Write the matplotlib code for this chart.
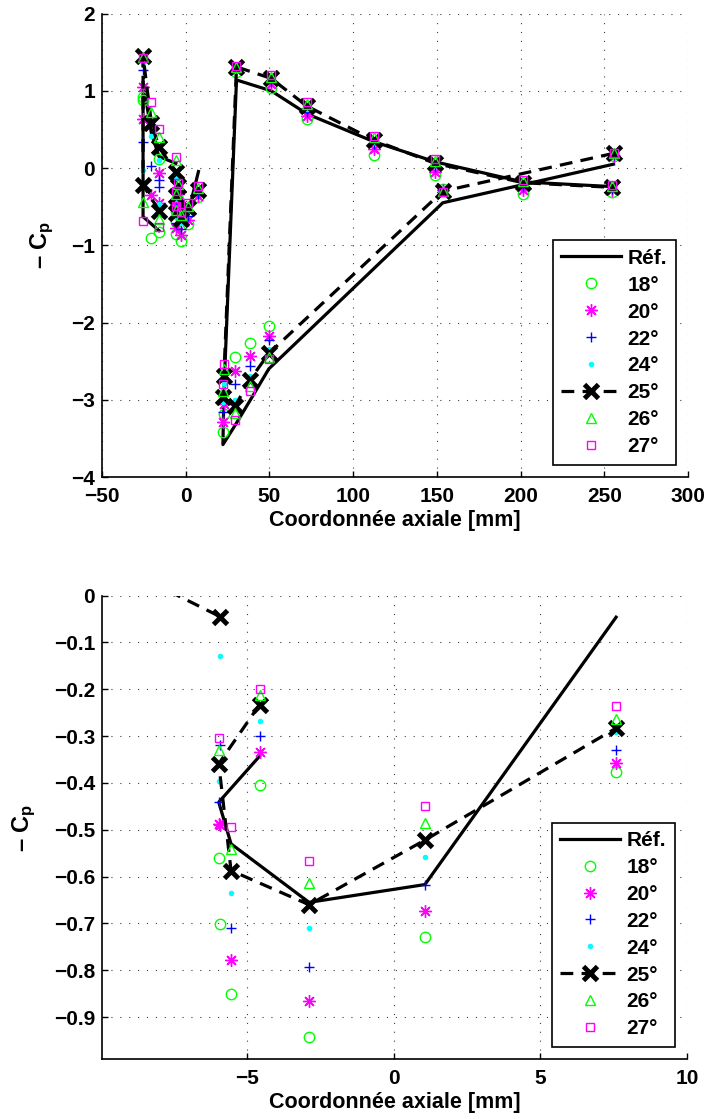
import numpy as np
import matplotlib
matplotlib.use("Agg")
import matplotlib.pyplot as plt

plt.rcParams['font.family'] = ['Liberation Sans', 'DejaVu Sans']
plt.rcParams['font.weight'] = 'bold'
plt.rcParams['axes.labelweight'] = 'bold'
plt.rcParams['mathtext.fontset'] = 'custom'
plt.rcParams['mathtext.rm'] = 'Liberation Sans:bold'
plt.rcParams['mathtext.default'] = 'rm'

nan = np.nan

# positions des prises de pression (mm), groupes séparés par nan
x_mm = [-16.0, -25.5, -25.5, -20.5, -16.0, -5.92, nan,
        -4.58, -5.97, -5.55, -2.89, 1.06, 7.58, nan,
        255.5, 153.5, 49.6, 38.1, 29.5, 22.2, 22.8, 30.3, 51.0, 72.5, 112.5, 149.0, 201.5, 254.5]

# -Cp reference
cp_ref = [-0.81, -0.63, 1.12, 0.45, 0.15, 0.06, nan,
          -0.343, -0.441, -0.530, -0.655, -0.617, -0.046, nan,
          0.05, -0.45, -2.60, -3.02, -3.33, -3.58, -2.90, 1.14, 1.00, 0.70, 0.34, 0.08, -0.18, -0.24]

# -Cp mesures par angle
cp_18 = [0.12, 0.88, 0.92, -0.91, -0.83, -0.702, nan,
         -0.405, -0.560, -0.850, -0.942, -0.729, -0.377, nan,
         0.15, -0.27, -2.05, -2.27, -2.44, -3.42, -3.18, 1.24, 1.03, 0.63, 0.17, -0.09, -0.34, -0.31]
cp_20 = [-0.07, 0.64, 1.05, -0.35, -0.45, -0.49, nan,
         -0.334, -0.487, -0.778, -0.866, -0.673, -0.358, nan,
         0.16, -0.28, -2.17, -2.43, -2.63, -3.29, -3.05, 1.27, 1.09, 0.68, 0.25, -0.05, -0.29, -0.29]
cp_22 = [-0.25, 0.34, 1.27, 0.02, -0.16, -0.318, nan,
         -0.300, -0.441, -0.710, -0.794, -0.617, -0.330, nan,
         0.17, -0.29, -2.23, -2.56, -2.80, -3.16, -2.92, 1.29, 1.12, 0.73, 0.31, 0.01, -0.24, -0.27]
cp_24 = [-0.46, -0.03, 1.35, 0.41, 0.10, -0.129, nan,
         -0.268, -0.396, -0.636, -0.710, -0.559, -0.291, nan,
         0.18, -0.30, -2.34, -2.69, -3.00, -3.03, -2.80, 1.30, 1.15, 0.77, 0.34, 0.04, -0.21, -0.26]
cp_25 = [-0.55, -0.22, 1.45, 0.58, 0.27, -0.045, nan,
         -0.233, -0.359, -0.587, -0.660, -0.522, -0.283, nan,
         0.19, -0.30, -2.40, -2.75, -3.08, -2.97, -2.69, 1.31, 1.16, 0.80, 0.36, 0.06, -0.19, -0.25]
cp_26 = [-0.66, -0.44, 1.44, 0.73, 0.40, 0.11, nan,
         -0.213, -0.330, -0.541, -0.614, -0.485, -0.263, nan,
         0.19, -0.30, -2.44, -2.82, -3.17, -2.88, -2.60, 1.31, 1.18, 0.83, 0.40, 0.09, -0.17, -0.23]
cp_27 = [-0.76, -0.68, 1.43, 0.86, 0.51, 0.14, nan,
         -0.200, -0.303, -0.495, -0.567, -0.450, -0.235, nan,
         0.20, -0.31, -2.47, -2.88, -3.26, -2.80, -2.54, 1.32, 1.20, 0.85, 0.42, 0.12, -0.15, -0.22]

labels = ['Réf.', '18°', '20°', '22°', '24°', '25°', '26°', '27°']

ASTERISK = (8, 2, 0)  # étoile façon matlab '*'


def fmt(v):
    s = '%g' % v
    return s.replace('-', '\u2212')


def draw_panel(ax, xlim, ylim, xticks, yticks):
    ax.plot(x_mm, cp_ref, '-', color='k', lw=2.3, label=labels[0])
    ax.plot(x_mm, cp_18, ls='none', marker='o', ms=7.5, mfc='none', mec='#00ff00', mew=1, label=labels[1])
    ax.plot(x_mm, cp_20, ls='none', marker=ASTERISK, ms=9, mfc='none', mec='#ff00ff', mew=1, label=labels[2])
    ax.plot(x_mm, cp_22, ls='none', marker='+', ms=7, mec='#0000ff', mew=1, label=labels[3])
    ax.plot(x_mm, cp_24, ls='none', marker='.', ms=6, mfc='#00ffff', mec='#00ffff', label=labels[4])
    ax.plot(x_mm, cp_25, ls=(0, (4, 2.6)), color='k', lw=2.3, marker='x', ms=9.5, mew=3.5, label=labels[5])
    ax.plot(x_mm, cp_26, ls='none', marker='^', ms=7, mfc='none', mec='#00ff00', mew=1, label=labels[6])
    ax.plot(x_mm, cp_27, ls='none', marker='s', ms=5.5, mfc='none', mec='#ff00ff', mew=1, label=labels[7])

    ax.set_xlim(xlim)
    ax.set_ylim(ylim)
    ax.set_xticks(xticks)
    ax.set_yticks(yticks)
    ax.set_xticklabels([fmt(v) for v in xticks], fontweight='bold', fontsize=15)
    ax.set_yticklabels([fmt(v) for v in yticks], fontweight='bold', fontsize=15)
    ax.grid(True, ls=(0, (1, 7)), color='0.25', lw=0.8)
    ax.set_axisbelow(True)
    for s in ['top', 'right']:
        ax.spines[s].set_visible(False)
    for s in ['left', 'bottom']:
        ax.spines[s].set_linewidth(1.2)
    ax.tick_params(direction='in', length=4, width=1)
    ax.tick_params(axis='x', pad=7)
    ax.tick_params(axis='y', pad=5)
    ax.set_xlabel('Coordonnée axiale [mm]', fontsize=15.5, fontweight='bold', labelpad=3)
    ax.set_ylabel('\u2013 C$_{p}$', fontsize=17, fontweight='bold', labelpad=11)
    leg = ax.legend(loc='lower right', handlelength=2.9, handletextpad=0.3,
                    labelspacing=0.38, numpoints=1, fancybox=False, framealpha=1,
                    edgecolor='k', borderaxespad=0.6, prop={'size': 15, 'weight': 'bold'})
    leg.get_frame().set_linewidth(1.2)


fig = plt.figure(figsize=(7.1, 11.19), dpi=100)
ax1 = fig.add_axes([0.1437, 0.5737, 0.8254, 0.4142])
ax2 = fig.add_axes([0.1437, 0.0534, 0.8240, 0.4143])

draw_panel(ax1, (-50, 300), (-4, 2), [-50, 0, 50, 100, 150, 200, 250, 300], [-4, -3, -2, -1, 0, 1, 2])
draw_panel(ax2, (-9.95, 10), (-0.99, 0), [-5, 0, 5, 10],
           [-0.9, -0.8, -0.7, -0.6, -0.5, -0.4, -0.3, -0.2, -0.1, 0])

fig.savefig('out.png', dpi=100)
